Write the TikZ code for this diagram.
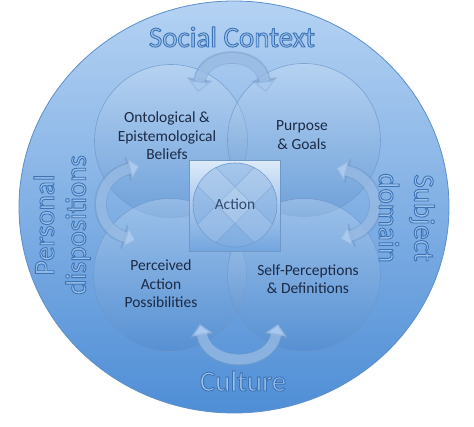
\documentclass[tikz,border=0pt]{standalone}
\usepackage{fontspec}
\setmainfont{Carlito}
\usetikzlibrary{shapes.geometric,arrows.meta}
\definecolor{bgtop}{HTML}{B4D2F3}
\definecolor{bgbot}{HTML}{4F8ED6}
\definecolor{rim}{HTML}{5C8FCB}
\definecolor{txt}{HTML}{1B2A45}
\definecolor{acttxt}{HTML}{2F4A6E}
\definecolor{olfill}{HTML}{9CC2EC}
\definecolor{ringc}{HTML}{6D98CC}
\definecolor{arrc}{HTML}{A9C9EE}
\definecolor{arredge}{HTML}{6F98C8}
\tikzset{
  outer/.style={ellipse,minimum width=430pt,minimum height=412pt,draw=rim,line width=0.8pt,
    top color=bgtop,bottom color=bgbot,inner sep=0pt},
  ring/.style={circle,minimum size=153pt,inner sep=0pt,draw=ringc,draw opacity=0.8,line width=0.6pt,
    top color=white!60!bgtop,bottom color=bgbot!90!black,fill opacity=0.28},
  lab/.style={align=center,text=txt,font=\fontsize{15.5}{18.5}\selectfont,inner sep=0pt},
  big/.style={inner sep=0pt,font=\fontsize{29}{30}\selectfont},
  arrout/.style={line width=12.5pt,draw=arredge,draw opacity=0.5,
    {Triangle[width=25pt,length=13pt]}-{Triangle[width=25pt,length=13pt]}},
  arrin/.style={line width=10pt,draw=arrc,draw opacity=0.55,
    {Triangle[width=21pt,length=11pt]}-{Triangle[width=21pt,length=11pt]}},
  sq/.style={rectangle,minimum size=91pt,inner sep=0pt,draw=arredge,line width=0.6pt,
    top color=white!55!bgtop,bottom color=bgbot!80!white},
  actc/.style={circle,minimum size=84pt,inner sep=0pt,draw=ringc,line width=0.6pt,
    fill=bgbot!70!white,fill opacity=0.6}
}
\newcommand{\outl}[1]{\textcolor{olfill}{\special{pdf:code q 2 Tr 0.9 w 0.24 0.45 0.71 RG}#1\special{pdf:code Q}}}
\begin{document}
\begin{tikzpicture}[x=1pt,y=-1pt]
\useasboundingbox (0,0) rectangle (474,427);
\fill[white] (0,0) rectangle (474,427);
\node[outer] (outer) at (234,207) {};
% four circles
\node[ring] (onto) at (171,141) {};
\node[ring] (purp) at (304,140) {};
\node[ring] (perc) at (170,275) {};
\node[ring] (self) at (304,275) {};
% centre
\node[sq] (sqr) at (235,206) {};
\node[actc] (act) at (235,205) {};
\begin{scope}
\clip (235,205) circle (42);
\foreach \a in {45,-45}{
  \begin{scope}[shift={(235,205)},rotate=\a]
    \fill[white,opacity=0.12] (-60,-13) rectangle (60,13);
    \draw[ringc,line width=0.5pt,opacity=0.8] (-60,-13) -- (60,-13) (-60,13) -- (60,13);
  \end{scope}}
\end{scope}
\node[lab,text=acttxt] (tact) at (235,204) {Action};
% arrows
\coordinate (a1s) at (198,92);
\coordinate (a1e) at (266,92);
\coordinate (a2s) at (140,166);
\coordinate (a2e) at (136,240);
\coordinate (a3s) at (336,168);
\coordinate (a3e) at (340,239);
\coordinate (a4s) at (200,324);
\coordinate (a4e) at (278,324);
\foreach \s/\e/\cx/\cy/\dx/\dy in {a1s/a1e/204/50/260/50, a2s/a2e/92/178/92/228, a3s/a3e/384/180/384/226, a4s/a4e/208/368/270/368}{
  \draw[arrout] (\s) .. controls (\cx,\cy) and (\dx,\dy) .. (\e);
  \draw[arrin] (\s) .. controls (\cx,\cy) and (\dx,\dy) .. (\e);
}
% labels
\node[lab] (tonto) at (167,136) {Ontological \&\\Epistemological\\Beliefs};
\node[lab] (tpurp) at (302,135) {Purpose\\\& Goals};
\node[lab] (tperc) at (161,284) {Perceived\\Action\\Possibilities};
\node[lab] (tself) at (308,279) {Self-Perceptions\\\& Definitions};
% outer texts
\node[big] (tsoc) at (232,37) {\outl{Social Context}};
\node[big] (tcul) at (243,381) {\outl{Culture}};
\node[big,rotate=90] (tper) at (44,225) {\outl{Personal}};
\node[big,rotate=90] (tdis) at (78,225) {\outl{dispositions}};
\node[big,rotate=-90] (tsub) at (422,218) {\outl{Subject}};
\node[big,rotate=-90] (tdom) at (389,218) {\outl{domain}};
\end{tikzpicture}
\end{document}
